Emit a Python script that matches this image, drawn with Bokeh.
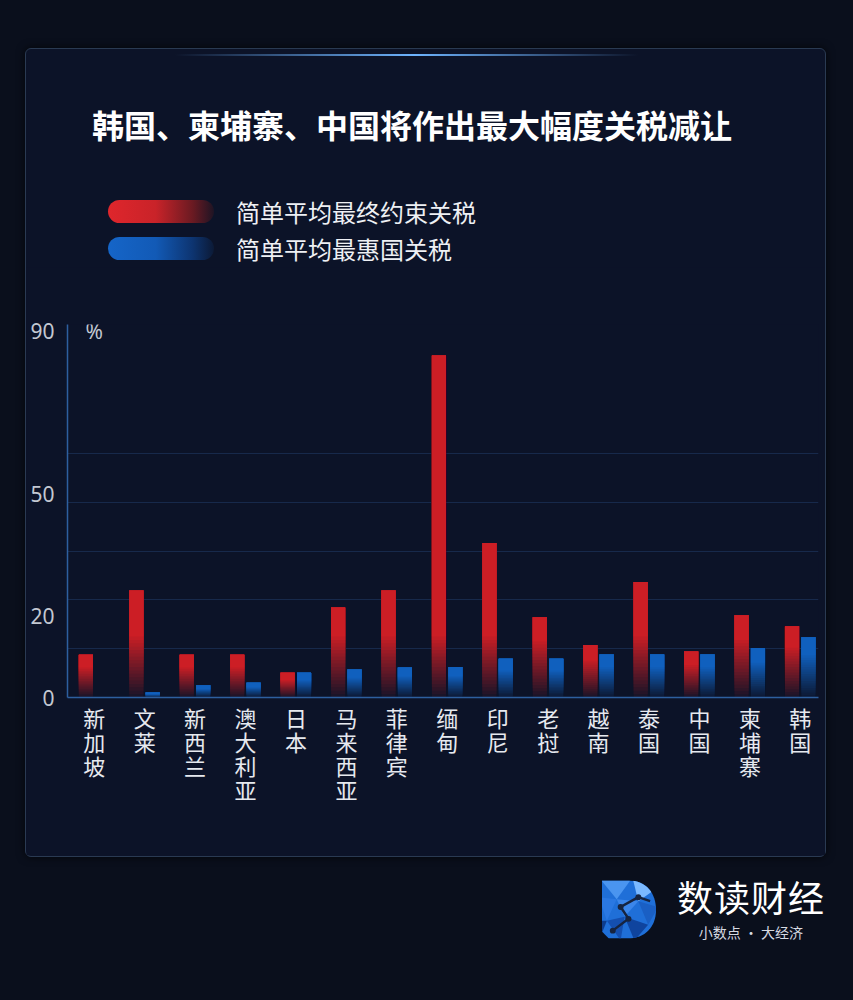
from bokeh.plotting import figure
from bokeh.models import Range1d, FixedTicker, Label, Div, ColumnDataSource
from bokeh.layouts import column
from bokeh.embed import file_html
from bokeh.resources import INLINE

# ---------------- data ----------------
title = "韩国、柬埔寨、中国将作出最大幅度关税减让"
series = ["简单平均最终约束关税", "简单平均最惠国关税"]
categories = ["新加坡", "文莱", "新西兰", "澳大利亚", "日本", "马来西亚", "菲律宾", "缅甸",
              "印尼", "老挝", "越南", "泰国", "中国", "柬埔寨", "韩国"]
bound = [10.5, 26.3, 10.5, 10.5, 6.1, 22.1, 26.3, 84.1, 38.0, 19.7, 12.9, 28.4, 11.3, 20.2, 17.5]
mfn = [0.0, 1.2, 3.0, 3.6, 6.1, 6.9, 7.4, 7.5, 9.5, 9.5, 10.6, 10.6, 10.6, 12.2, 14.8]
y_ticks = [0, 20, 50, 90]
grid_ticks = [12, 24, 36, 48, 60]
unit = "%"
brand = "数读财经"
slogan = "小数点 · 大经济"

# ---------------- style ----------------
PAGE_BG = "#0a0f1c"
PANEL_BG = "#0c1328"
RED = (204, 30, 37)
BLUE = (16, 96, 190)
AXIS = "#2d5f9f"
GRID = "#17294b"
CJK = "Noto Sans CJK SC"


def mix(c, a):
    bg = (12, 19, 40)
    r, g, b = (int(round(bg[j] + (c[j] - bg[j]) * a)) for j in range(3))
    return "#%02x%02x%02x" % (r, g, b)


def gradient_source(vals, offset, color, steps=18):
    xs, bots, tops, cols = [], [], [], []
    for k in range(steps + 1):
        for i, v in enumerate(vals):
            if v <= 0:
                continue
            fade = min(v * 0.7, 15.0)
            a = 0.08 + 0.92 * (k / steps)
            xs.append(i + offset)
            bots.append(fade * k / steps)
            tops.append(v)
            cols.append(mix(color, a))
    return ColumnDataSource(dict(x=xs, bottom=bots, top=tops, color=cols))


p = figure(width=799, height=588,
           x_range=Range1d(-0.53, 14.36), y_range=Range1d(0, 91.7),
           output_backend="svg", toolbar_location=None,
           min_border_left=41, min_border_right=7, min_border_top=57, min_border_bottom=158,
           background_fill_color=PANEL_BG, border_fill_color=PANEL_BG,
           outline_line_color=None)

BAR_W = 0.28
p.vbar(x="x", bottom="bottom", top="top", width=BAR_W, fill_color="color", line_color=None,
       source=gradient_source(bound, -0.165, RED))
p.vbar(x="x", bottom="bottom", top="top", width=BAR_W, fill_color="color", line_color=None,
       source=gradient_source(mfn, 0.16, BLUE))

# axes
p.xaxis.ticker = FixedTicker(ticks=list(range(len(categories))))
p.xaxis.major_label_overrides = {i: "\n".join(c) for i, c in enumerate(categories)}
p.xaxis.major_label_text_font = CJK
p.xaxis.major_label_text_font_size = "22px"
p.xaxis.major_label_text_color = "#e6e9ef"
p.xaxis.major_label_text_line_height = 0.75
p.xaxis.major_label_standoff = -3
p.xaxis.major_label_text_baseline = "top"

p.yaxis.ticker = FixedTicker(ticks=y_ticks)
p.yaxis.major_label_text_font = "Noto Sans"
p.yaxis.major_label_text_font_size = "21px"
p.yaxis.major_label_text_color = "#c3c8d2"
p.yaxis.major_label_standoff = 7

for ax in (p.xaxis, p.yaxis):
    ax.axis_line_color = AXIS
    ax.axis_line_width = 1.5
    ax.major_tick_line_color = None
    ax.minor_tick_line_color = None

p.xgrid.visible = False
p.ygrid.ticker = FixedTicker(ticks=grid_ticks)
p.ygrid.grid_line_color = GRID
p.ygrid.grid_line_width = 1

p.add_layout(Label(x=18, x_units="screen", y=y_ticks[-1], text=unit, text_font="Noto Sans",
                   text_font_size="21px", text_color="#c3c8d2", text_baseline="middle"))

# ---------------- decorations (HTML) ----------------
glow = Div(text="", width=799, height=2,
           styles={"background": "linear-gradient(90deg, rgba(60,130,230,0) 18%, rgba(110,180,255,1) 48%, rgba(60,130,230,0) 76%)"})

title_div = Div(
    text=f'<div style="font-family:\'{CJK}\';font-weight:bold;font-size:32px;line-height:32px;'
         f'color:#ffffff;white-space:nowrap;">{title}</div>',
    width=700, height=32, margin=(47, 0, 0, 66))

pills = [
    "linear-gradient(90deg,#df262c 0%,#c92329 45%,#6a1a22 80%,#1e1424 100%)",
    "linear-gradient(90deg,#1565c8 0%,#125ab6 45%,#0d3470 80%,#0c1a36 100%)",
]
rows = ""
for name, grad in zip(series, pills):
    rows += (f'<div style="display:flex;align-items:center;height:37px;">'
             f'<div style="width:106px;height:23px;border-radius:12px;background:{grad};"></div>'
             f'<span style="margin-left:22px;line-height:37px;white-space:nowrap;">{name}</span></div>')
legend_div = Div(
    text=f'<div style="font-family:\'{CJK}\';font-size:24px;color:#eef0f4;">{rows}</div>',
    width=500, height=74, margin=(53, 0, 0, 82))

panel = column(children=[glow, title_div, legend_div, p], width=801, height=809,
               margin=(48, 0, 0, 25),
               styles={"border": "1px solid #2a3a52", "border-radius": "6px",
                       "background-color": PANEL_BG,
                       "box-shadow": "0 0 8px rgba(0,0,0,0.7)",
                       "box-sizing": "border-box"})

logo_svg = (
    '<svg width="59" height="64" viewBox="0 0 60 64">'
    '<defs><clipPath id="dclip"><path d="M3,3 L30,3 C48,3 58,16 58,33 C58,50 47,62 29,62 L10,62 L3,55 Z"/></clipPath></defs>'
    '<g clip-path="url(#dclip)">'
    '<rect x="0" y="0" width="60" height="64" fill="#1f6fd8"/>'
    '<polygon points="0,0 34,0 18,22" fill="#4a95f0"/>'
    '<polygon points="34,0 60,10 40,24" fill="#7bb9ff"/>'
    '<polygon points="18,22 40,24 26,40" fill="#3b86ea"/>'
    '<polygon points="0,20 18,22 8,44" fill="#2a78e2"/>'
    '<polygon points="40,24 60,30 50,48" fill="#1a5fc4"/>'
    '<polygon points="8,44 26,40 22,64" fill="#144fb0"/>'
    '<polygon points="26,40 50,48 36,64" fill="#0f449e"/>'
    '<polygon points="0,44 8,44 0,64" fill="#0d3c8c"/>'
    '</g>'
    '<polyline points="14,54 30,42 22,30 40,20 52,24" fill="none" stroke="#162440" stroke-width="2.5"/>'
    '<circle cx="14" cy="54" r="3" fill="#162440"/><circle cx="30" cy="42" r="3" fill="#162440"/>'
    '<circle cx="22" cy="30" r="3" fill="#162440"/><circle cx="40" cy="20" r="3" fill="#162440"/>'
    '</svg>')

logo_div = Div(
    text=(f'<div style="display:flex;align-items:center;justify-content:flex-end;width:825px;'
          f'font-family:\'{CJK}\';">'
          f'{logo_svg}'
          f'<div style="margin-left:19px;text-align:center;">'
          f'<div style="font-size:36px;line-height:40px;color:#ffffff;letter-spacing:1px;">{brand}</div>'
          f'<div style="font-size:14px;line-height:20px;color:#d6dae2;margin-top:6px;">{slogan}</div>'
          f'</div></div>'),
    width=853, height=72, margin=(19, 0, 0, 0))

root = column(children=[panel, logo_div], width=853, height=1000)

open("out.html", "w").write(
    file_html(root, INLINE).replace("<body>", f'<body style="background-color:{PAGE_BG};">'))
